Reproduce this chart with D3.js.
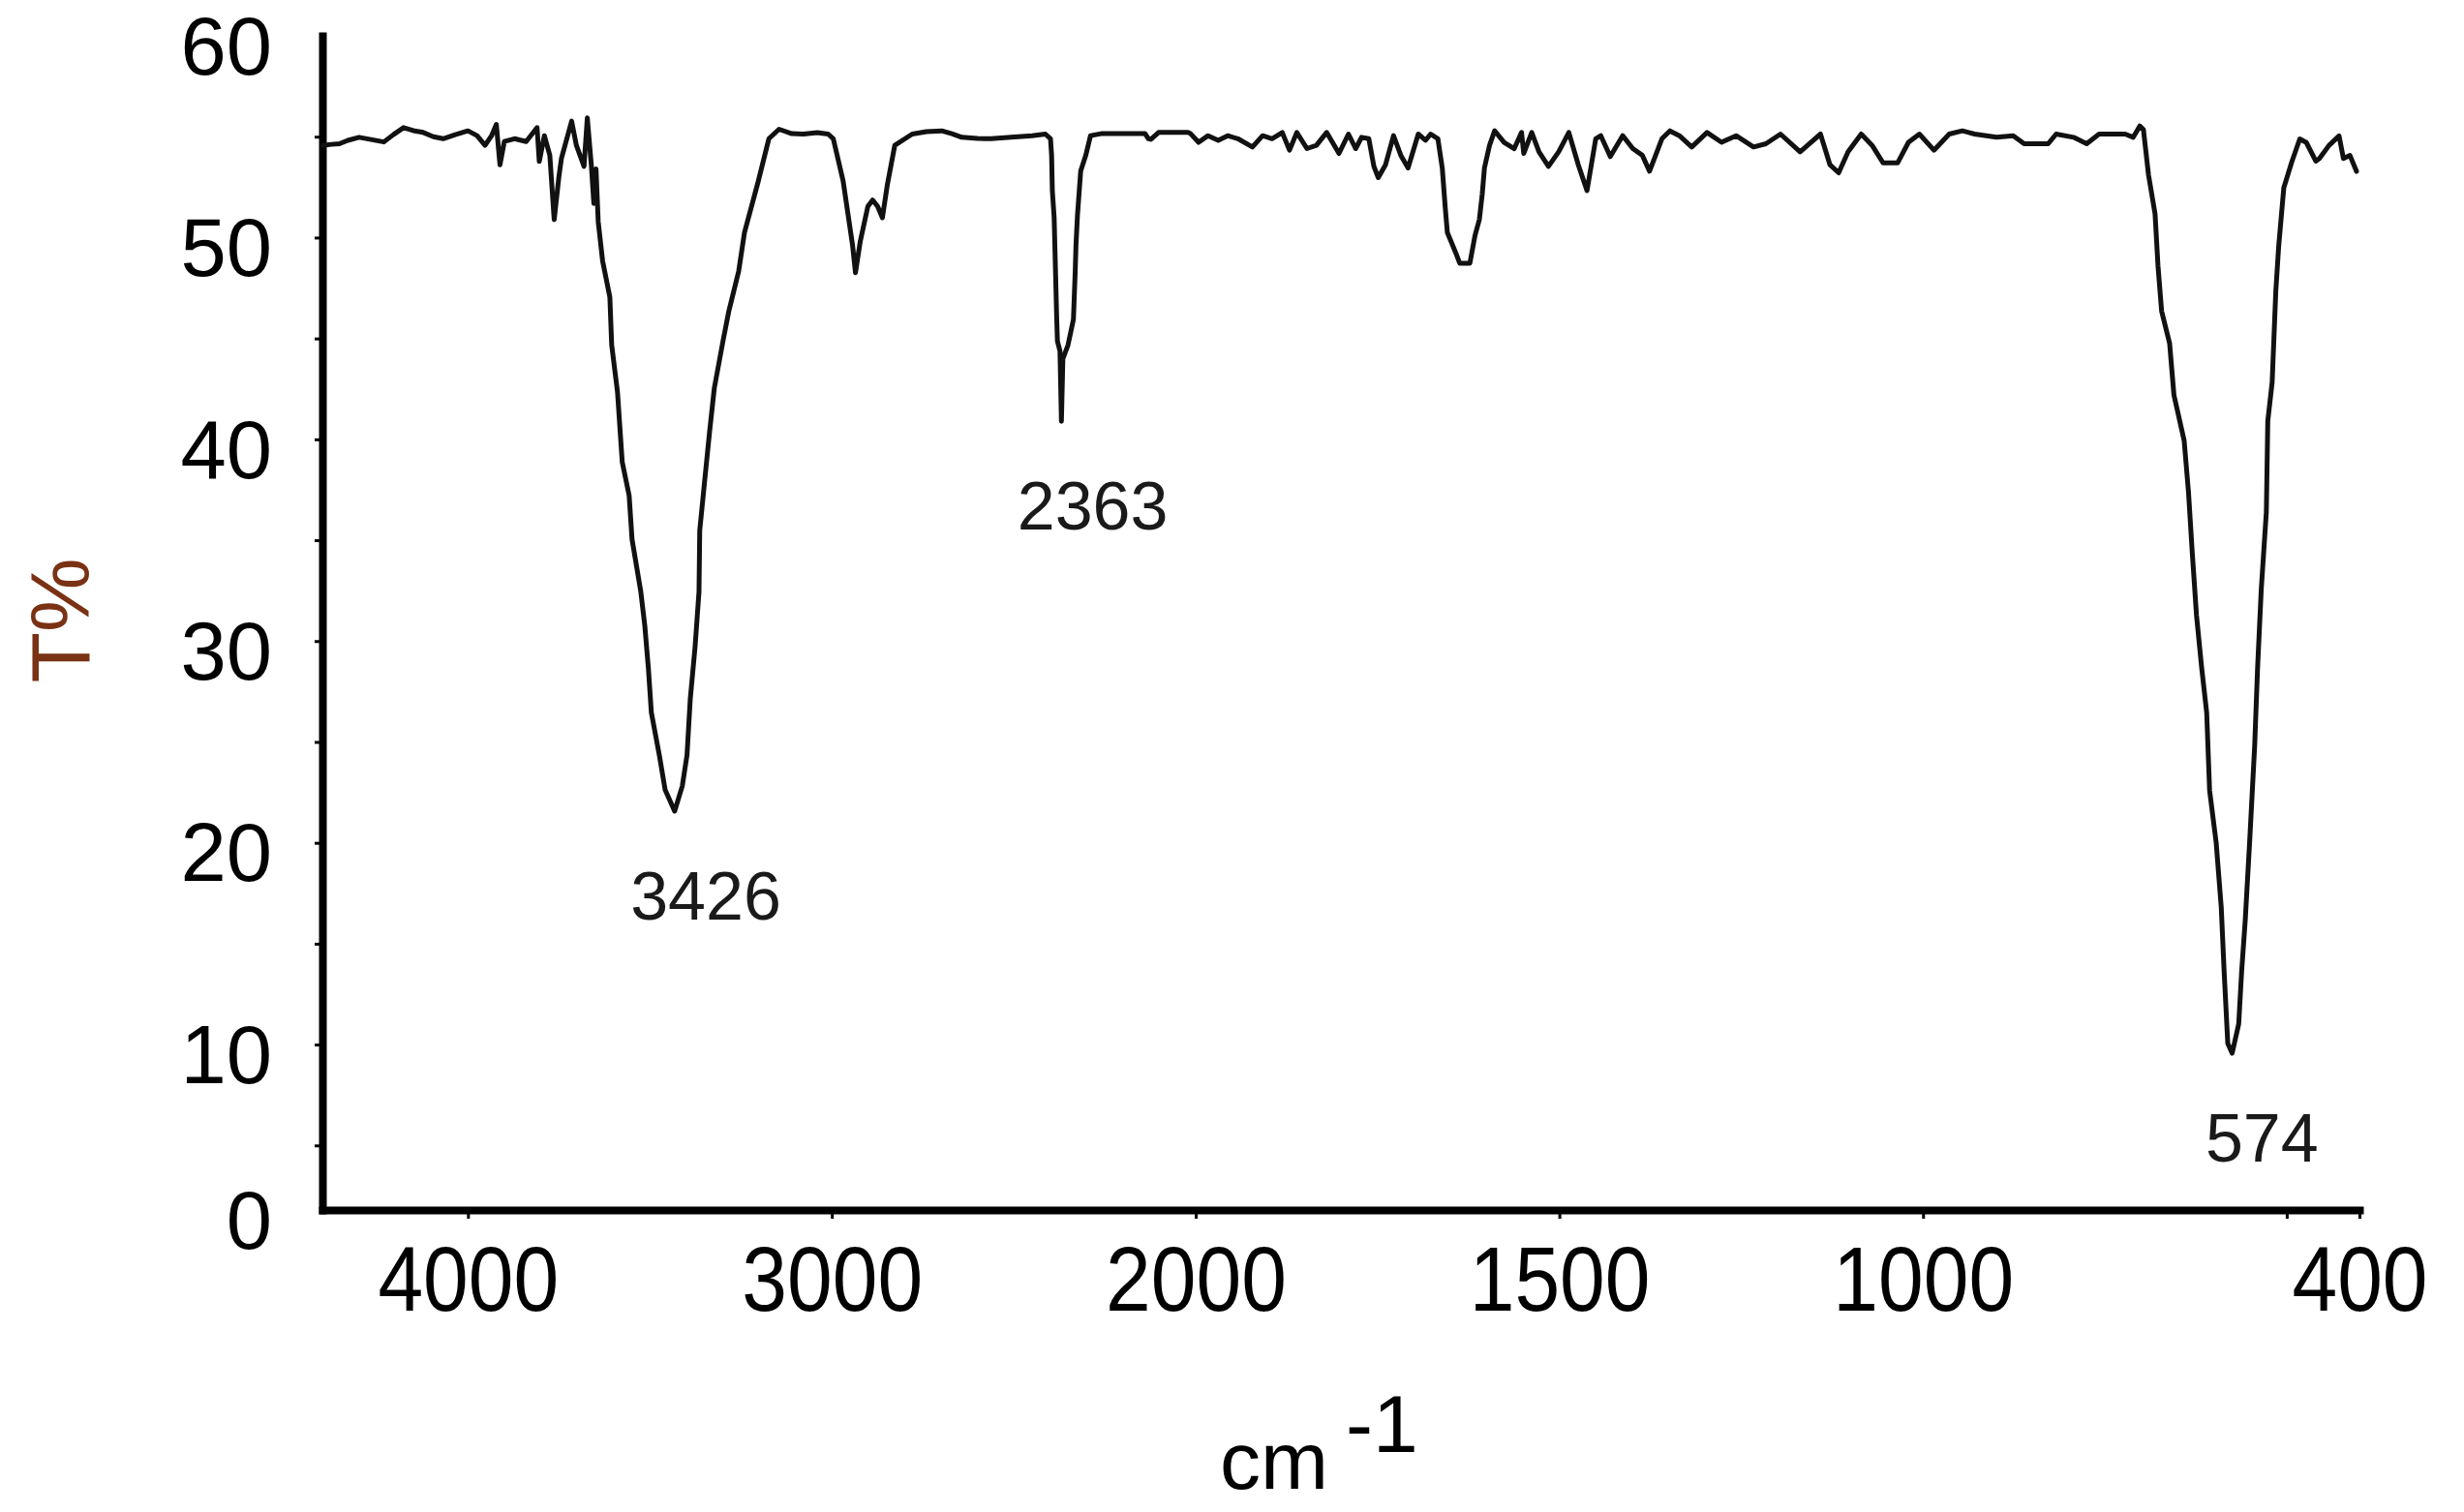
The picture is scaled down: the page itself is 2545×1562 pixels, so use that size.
<!DOCTYPE html>
<html><head><meta charset="utf-8">
<script src="https://cdn.jsdelivr.net/npm/d3@7"></script>
<style>html,body{margin:0;padding:0;background:#fff;} svg{display:block;}</style>
</head><body>
<svg id="chart" width="2545" height="1562"></svg>
<script>
// ---- data ----
const wavenumber = [4400,4375,4353,4330,4299,4270,4231,4205,4177,4150,4123,4095,4068,4035,4000,3975,3953,3935,3922,3912,3900,3872,3840,3810,3804,3790,3775,3763,3750,3743,3715,3702,3681,3672,3661,3654,3648,3642,3630,3610,3605,3589,3576,3557,3549,3525,3514,3504,3496,3474,3458,3432,3411,3398,3389,3376,3365,3363,3349,3336,3323,3299,3283,3256,3240,3203,3173,3145,3110,3078,3040,3010,2996,2969,2943,2935,2922,2901,2888,2874,2861,2847,2827,2779,2740,2698,2670,2643,2600,2562,2508,2450,2413,2399,2396,2394,2389,2386,2382,2380,2373,2369,2365,2351,2336,2331,2329,2325,2316,2302,2289,2260,2227,2190,2139,2130,2123,2102,2060,2021,2014,1996,1983,1969,1956,1942,1922,1908,1895,1881,1871,1861,1847,1834,1820,1803,1790,1780,1772,1762,1755,1749,1739,1728,1718,1708,1694,1684,1677,1667,1661,1657,1654,1643,1637,1623,1616,1610,1606,1603,1596,1589,1576,1562,1552,1549,1538,1528,1515,1501,1487,1474,1462,1450,1443,1430,1413,1399,1386,1376,1359,1348,1335,1318,1297,1277,1257,1233,1216,1196,1169,1141,1128,1116,1103,1085,1070,1055,1035,1020,1005,985,964,946,929,899,876,861,828,817,793,775,758,722,711,702,697,690,681,677,672,661,655,641,635,630,624,617,610,606,597,590,586,581,575,566,562,557,551,544,540,535,528,526,520,515,511,504,493,482,473,460,455,442,428,422,413,404];
const transmittance = [54.57,54.62,54.65,54.82,54.97,54.87,54.74,55.10,55.45,55.30,55.21,55.00,54.90,55.10,55.29,55.05,54.57,55.05,55.61,53.61,54.76,54.90,54.76,55.45,53.77,55.05,54.08,50.89,53.02,53.93,55.77,54.57,53.53,55.93,53.61,51.69,53.40,50.79,48.85,47.04,44.68,42.34,38.88,37.21,35.04,32.45,30.77,28.62,26.46,24.34,22.62,21.57,22.81,24.34,27.13,29.67,32.45,35.48,38.02,40.37,42.53,44.88,46.36,48.33,50.25,52.73,54.90,55.37,55.15,55.13,55.20,55.13,54.90,52.81,49.62,48.26,49.79,51.54,51.86,51.54,50.98,52.66,54.57,55.13,55.25,55.29,55.15,54.97,54.91,54.90,54.97,55.05,55.13,54.90,54.08,52.33,51.00,48.85,46.00,44.87,44.38,40.89,43.99,44.67,45.94,48.36,49.62,51.08,53.31,54.08,55.05,55.15,55.15,55.15,55.15,54.90,54.87,55.21,55.21,55.21,55.15,54.72,55.05,54.82,55.05,54.90,54.49,55.05,54.90,55.21,54.33,55.21,54.41,54.57,55.21,54.17,55.13,54.41,54.97,54.90,53.53,52.97,53.61,55.05,54.08,53.45,55.13,54.82,55.13,54.90,53.45,51.53,50.25,49.29,48.73,48.73,50.10,50.89,52.17,53.45,54.57,55.29,54.72,54.41,55.21,54.17,55.21,54.25,53.53,54.25,55.21,53.61,52.33,54.90,55.05,54.01,55.05,54.41,54.08,53.29,54.90,55.29,55.05,54.49,55.21,54.72,55.05,54.49,54.65,55.13,54.25,55.13,53.61,53.21,54.25,55.13,54.57,53.70,53.70,54.72,55.13,54.33,55.13,55.29,55.13,54.97,55.05,54.65,54.65,55.13,54.97,54.65,55.13,55.13,54.97,55.53,55.36,53.11,51.18,48.62,46.36,44.76,42.19,39.94,37.37,34.47,31.27,28.70,26.45,22.59,20.02,16.81,13.60,10.05,9.57,11.02,13.60,16.17,20.02,24.84,28.70,32.55,36.40,40.90,42.83,47.33,49.58,52.47,53.75,54.89,54.71,53.79,53.92,54.56,55.04,53.92,54.07,53.28];

const xTickValues = [4000, 3000, 2000, 1500, 1000, 500, 400];
const xTickLabels = ["4000", "3000", "2000", "1500", "1000", "", "400"];
const yTickValues = [0, 10, 20, 30, 40, 50, 60];
const yMinorTickValues = [5, 10, 15, 20, 25, 30, 35, 40, 45, 50, 55];
const peakWavenumbers = [3426, 2363, 574];
const peakTransmittance = [21.57, 40.89, 9.57];
const peakLabels = ["3426", "2363", "574"];
const xTitle = "cm";
const xTitleSup = "-1";
const yTitle = "T%";

// ---- scales ----
const svg = d3.select("#chart");
const FONT = "'Liberation Sans', Arial, Helvetica, sans-serif";
// axis with a change of scale at 2000 cm-1 (common in FTIR plots)
const x = d3.scaleLinear().domain([4400, 2000, 400]).range([333, 1235, 2437]);
const yBottom = 1.8; // the horizontal axis crosses slightly above T = 0
const y = d3.scaleLinear().domain([yBottom, 60]).range([1250, 37]);

svg.append("rect").attr("width", 2545).attr("height", 1562).attr("fill", "#fff");

// ---- axes ----
const xAxis = d3.axisBottom(x).tickValues(xTickValues).tickSize(9).tickSizeOuter(0)
  .tickPadding(24).tickFormat((d, i) => xTickLabels[i]);
const gx = svg.append("g").attr("transform", `translate(0,${y(yBottom)})`).call(xAxis);
gx.select(".domain").attr("stroke", "#000").attr("stroke-width", 8).attr("stroke-linecap", "square");
gx.selectAll(".tick line").attr("stroke", "#000").attr("stroke-width", 3);
gx.selectAll(".tick text").attr("font-family", FONT).attr("font-size", 84).attr("fill", "#000")
  .attr("transform", "scale(1,1.12)");

const yAxis = d3.axisLeft(y).tickValues(yMinorTickValues).tickSize(8).tickSizeOuter(0).tickFormat("");
const gy = svg.append("g").attr("transform", `translate(${x(4400)},0)`).call(yAxis);
gy.select(".domain").attr("stroke", "#000").attr("stroke-width", 8).attr("stroke-linecap", "square");
gy.selectAll(".tick line").attr("stroke", "#000").attr("stroke-width", 3);

svg.append("g").selectAll("text").data(yTickValues).join("text")
  .attr("x", 281).attr("y", d => y(Math.max(d, yBottom)) + 10)
  .attr("dy", "0.35em").attr("text-anchor", "end")
  .attr("font-family", FONT).attr("font-size", 85).attr("fill", "#000")
  .text(d => d);

// ---- spectrum ----
const pts = wavenumber.map((w, i) => [w, transmittance[i]]);
svg.append("path").datum(pts)
  .attr("fill", "none").attr("stroke", "#111").attr("stroke-width", 5)
  .attr("stroke-linejoin", "round").attr("stroke-linecap", "round")
  .attr("d", d3.line().x(d => x(d[0])).y(d => y(d[1])));

// ---- peak labels ----
svg.append("g").selectAll("text").data(peakLabels).join("text")
  .attr("x", (d, i) => x(peakWavenumbers[i]) + 30)
  .attr("y", (d, i) => y(peakTransmittance[i]) + 112)
  .attr("text-anchor", "middle")
  .attr("font-family", FONT).attr("font-size", 70).attr("fill", "#1a1a1a")
  .text(d => d);

// ---- titles ----
svg.append("text").attr("x", 1260).attr("y", 1538)
  .attr("font-family", FONT).attr("font-size", 84).attr("fill", "#000").text(xTitle);
svg.append("text").attr("x", 1390).attr("y", 1500)
  .attr("font-family", FONT).attr("font-size", 84).attr("fill", "#000").text(xTitleSup);
svg.append("text")
  .attr("transform", "translate(92,641) rotate(-90)")
  .attr("text-anchor", "middle")
  .attr("font-family", FONT).attr("font-size", 86).attr("fill", "#7a3214").text(yTitle);
</script>
</body></html>
